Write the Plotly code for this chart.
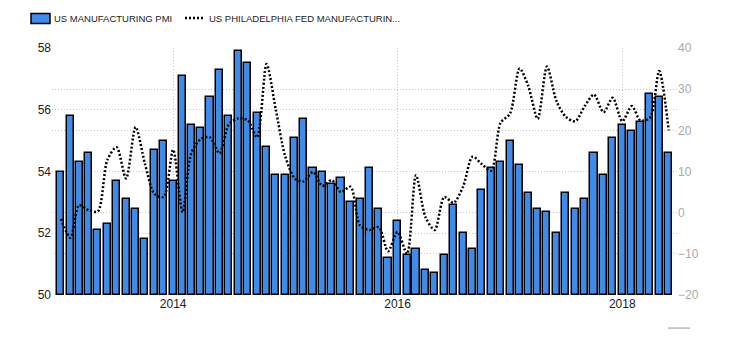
import pandas as pd
import plotly.graph_objects as go

months = pd.date_range("2013-01-01", periods=66, freq="MS")

pmi = [54.0, 55.8, 54.3, 54.6, 52.1, 52.3, 53.7, 53.1, 52.8, 51.8, 54.7, 55.0,
       53.7, 57.1, 55.5, 55.4, 56.4, 57.3, 55.8, 57.9, 57.5, 55.9, 54.8, 53.9,
       53.9, 55.1, 55.7, 54.1, 54.0, 53.6, 53.8, 53.0, 53.1, 54.1, 52.8, 51.2,
       52.4, 51.3, 51.5, 50.8, 50.7, 51.3, 52.9, 52.0, 51.5, 53.4, 54.1, 54.3,
       55.0, 54.2, 53.3, 52.8, 52.7, 52.0, 53.3, 52.8, 53.1, 54.6, 53.9, 55.1,
       55.5, 55.3, 55.6, 56.5, 56.4, 54.6]

philly = [-1.5, -6.1, 1.8, 0.6, 0.3, 12.8, 15.9, 8.3, 20.8, 12.0, 4.6, 3.8,
          15.3, 0.1, 14.4, 17.9, 18.3, 14.4, 21.4, 22.9, 22.4, 18.3, 36.1, 25.0,
          13.6, 8.3, 7.6, 9.9, 6.5, 7.9, 5.0, 6.3, -3.1, -4.2, -3.5, -9.4,
          -4.7, -10.0, 9.1, -1.1, -4.2, 3.8, 2.4, 6.3, 13.6, 11.8, 10.2, 21.8,
          24.1, 35.0, 30.8, 22.8, 35.5, 27.1, 23.3, 22.2, 25.9, 28.7, 24.4, 27.9,
          22.2, 25.9, 22.4, 23.0, 34.4, 20.0]

left_ticks = [50, 52, 54, 56, 58]
right_ticks = [-20, -10, 0, 10, 20, 30, 40]
year_ticks = ["2014-01-01", "2016-01-01", "2018-01-01"]
year_labels = ["2014", "2016", "2018"]

legend_names = ["US MANUFACTURING PMI", "US PHILADELPHIA FED MANUFACTURIN..."]

BLUE = "#3f8be9"
GRID = "#c8c8c8"
FONT = "Liberation Sans, Arial, sans-serif"

fig = go.Figure()
fig.add_trace(go.Bar(
    x=months, y=[v - 50 for v in pmi], base=50, name=legend_names[0],
    marker=dict(color=BLUE, line=dict(color="black", width=1.5)),
    width=23 * 86400000, yaxis="y", showlegend=False,
))
fig.add_trace(go.Scatter(
    x=months, y=philly, name=legend_names[1], mode="lines",
    line=dict(color="black", width=2.5, dash="2px,2px", shape="spline", smoothing=0.8),
    yaxis="y2", showlegend=False,
))

grid = dict(showgrid=True, gridcolor=GRID, griddash="1px,2px", gridwidth=1,
            zeroline=False, showline=False, ticks="")

fig.update_layout(
    width=730, height=340,
    margin=dict(l=52, r=53, t=48, b=45),
    paper_bgcolor="white", plot_bgcolor="white",
    font=dict(family=FONT, size=12, color="#222"),
    bargap=0,
    xaxis=dict(
        type="date", range=["2012-12-03", "2018-06-28"],
        tickvals=year_ticks, ticktext=year_labels,
        tickfont=dict(size=12, color="#222"), **grid,
    ),
    yaxis=dict(
        range=[50, 58], tickvals=left_ticks,
        tickfont=dict(size=12, color="#222"), **grid,
    ),
    yaxis2=dict(
        range=[-20, 40], tickvals=right_ticks, overlaying="y", side="right",
        tickfont=dict(size=12, color="#aaaaaa"), **grid,
    ),
)

# manual legend
fig.add_shape(type="rect", xref="paper", yref="paper",
              x0=(31 - 52) / 625, x1=(50 - 52) / 625,
              y0=1 + (48.5 - 24) / 246.5, y1=1 + (48.5 - 14) / 246.5,
              fillcolor=BLUE, line=dict(color="black", width=1.5))
fig.add_annotation(xref="paper", yref="paper", x=(52 - 52) / 625, y=1 + (48.5 - 19) / 246.5,
                   text=legend_names[0], showarrow=False, xanchor="left", yanchor="middle",
                   font=dict(family=FONT, size=9.5, color="#222"))
fig.add_shape(type="line", xref="paper", yref="paper",
              x0=(185 - 52) / 625, x1=(203 - 52) / 625,
              y0=1 + (48.5 - 18.5) / 246.5, y1=1 + (48.5 - 18.5) / 246.5,
              line=dict(color="black", width=2.5, dash="2px,2px"))
fig.add_annotation(xref="paper", yref="paper", x=(207 - 52) / 625, y=1 + (48.5 - 19) / 246.5,
                   text=legend_names[1], showarrow=False, xanchor="left", yanchor="middle",
                   font=dict(family=FONT, size=9.5, color="#222"))
# small gray mark bottom-right
fig.add_shape(type="line", xref="paper", yref="paper",
              x0=(668 - 52) / 625, x1=(690 - 52) / 625,
              y0=-(328 - 295) / 246.5, y1=-(328 - 295) / 246.5,
              line=dict(color="#999999", width=1))

fig.write_html("out.html")
